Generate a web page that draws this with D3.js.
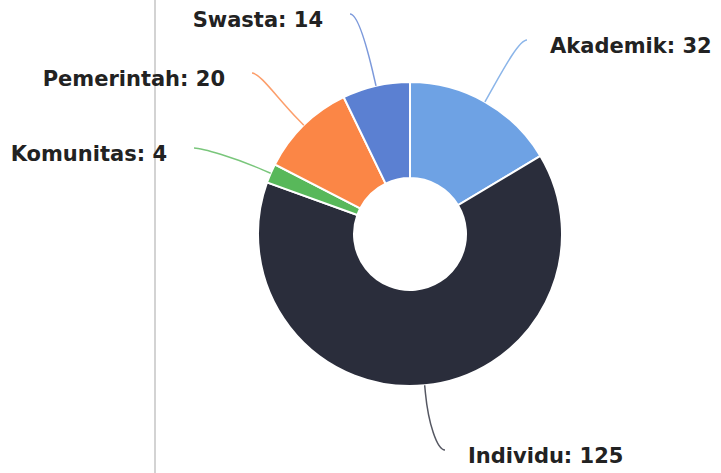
<!DOCTYPE html>
<html>
<head>
<meta charset="utf-8">
<script src="https://cdn.jsdelivr.net/npm/d3@7"></script>
<style>
  body { margin: 0; background: #fff; }
  #chart { width: 721px; height: 473px; }
  .lbl { font-family: "DejaVu Sans", sans-serif; font-weight: bold; font-size: 21px; fill: #222; }
</style>
</head>
<body>
<div id="chart"></div>
<script>
// data
const categories = ["Akademik", "Individu", "Komunitas", "Pemerintah", "Swasta"];
const values = [32, 125, 4, 20, 14];
const colors = ["#6ea2e4", "#2a2d3b", "#58b85a", "#fb8646", "#5b80d2"];

// where each label sits (anchor point, side)
const labelSpots = {
    "Akademik":   {x: 550, y: 53,  side: "right"},
    "Individu":   {x: 468, y: 463, side: "right"},
    "Komunitas":  {x: 167, y: 161, side: "left"},
    "Pemerintah": {x: 225, y: 86,  side: "left"},
    "Swasta":     {x: 323, y: 27,  side: "left"}
};

const width = 721, height = 473;
const cx = 410, cy = 234, outerR = 152, innerR = 56;

let svg = d3.select("#chart")
    .append("svg")
    .attr("width", width)
    .attr("height", height);

// the grey divider on the left
svg.append("line")
    .attr("x1", 155).attr("x2", 155)
    .attr("y1", 0).attr("y2", height)
    .attr("stroke", "#d3d3d3")
    .attr("stroke-width", 2);

let data = categories.map((c, i) => ({name: c, value: values[i], color: colors[i]}));

const pie = d3.pie().sort(null).value(d => d.value);
const arc = d3.arc().innerRadius(innerR).outerRadius(outerR);
const arcs = pie(data);

let group = svg.append("g")
    .attr("transform", "translate(" + cx + "," + cy + ")");

group.selectAll("path.slice")
    .data(arcs)
    .enter().append("path")
    .attr("class", "slice")
    .attr("d", arc)
    .attr("fill", d => d.data.color)
    .attr("stroke", "#fff")
    .attr("stroke-width", 2);

// curved connectors, soft style
function connector(d) {
    let a = (d.startAngle + d.endAngle) / 2;
    let dx = Math.sin(a), dy = -Math.cos(a);
    let spot = labelSpots[d.data.name];
    let ex = spot.side === "right" ? spot.x - 23 : spot.x + 27;
    let ey = spot.y - 13;
    let p0 = [cx + dx * outerR, cy + dy * outerR];
    let p1 = [cx + dx * (outerR + 8), cy + dy * (outerR + 8)];
    let c2 = [p1[0] + dx * 30, p1[1] + dy * 30];
    let c1 = [spot.side === "right" ? ex - 8 : ex + 8, ey];
    let p = d3.path();
    p.moveTo(ex, ey);
    p.bezierCurveTo(c1[0], c1[1], c2[0], c2[1], p1[0], p1[1]);
    p.lineTo(p0[0], p0[1]);
    return p.toString();
}

svg.selectAll("path.conn")
    .data(arcs)
    .enter().append("path")
    .attr("class", "conn")
    .attr("d", connector)
    .attr("fill", "none")
    .attr("stroke", d => d.data.color)
    .attr("stroke-opacity", 0.8)
    .attr("stroke-width", 1.5);

svg.selectAll("text.lbl")
    .data(arcs)
    .enter().append("text")
    .attr("class", "lbl")
    .attr("x", d => labelSpots[d.data.name].x)
    .attr("y", d => labelSpots[d.data.name].y)
    .attr("text-anchor", d => labelSpots[d.data.name].side === "right" ? "start" : "end")
    .text(d => d.data.name + ": " + d.data.value);
</script>
</body>
</html>
